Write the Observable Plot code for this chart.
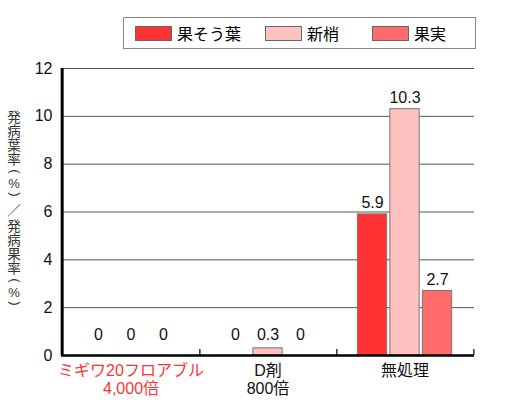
<!DOCTYPE html>
<html><head><meta charset="utf-8">
<script src="https://cdn.jsdelivr.net/npm/d3@7"></script>
<script src="https://cdn.jsdelivr.net/npm/@observablehq/plot@0.6"></script>
<style>
body{margin:0;background:#fff;font-family:"Liberation Sans","Noto Sans CJK JP",sans-serif;}
#wrap{position:relative;width:524px;height:409px;}
#legend{position:absolute;left:123px;top:17px;width:353px;height:32px;border:1px solid #888;box-sizing:border-box;font-size:16px;}
.item{position:absolute;top:0;height:30px;display:flex;align-items:center;}
.sw{width:37px;height:15px;border:1px solid #666;box-sizing:border-box;margin-right:5px;}
#ylabel{position:absolute;left:0;top:0;}
#chart{position:absolute;left:0;top:0;}
</style></head>
<body><div id="wrap"><div id="chart"></div><div id="legend"></div><svg id="ylabel" width="30" height="409"></svg></div>
<script>
const groups = ["ミギワ20フロアブル\n4,000倍", "D剤\n800倍", "無処理"];
const series = ["果そう葉", "新梢", "果実"];
const colors = ["#ff3333", "#ffc0c0", "#ff6b6b"];
const leafCluster = [0, 0, 5.9];
const shoot = [0, 0.3, 10.3];
const fruit = [0, 0, 2.7];
const yTicks = [0, 2, 4, 6, 8, 10, 12];
const yLabel = "発病葉率(%)／発病果率(%)";

const valuesBySeries = [leafCluster, shoot, fruit];
const rows = [];
series.forEach((s, i) => groups.forEach((g, j) => rows.push({group: g, series: s, value: valuesBySeries[i][j]})));

const W = 524, H = 409, mL = 61, mR = 50;
const band = (W - mL - mR) / groups.length;
const barW = 30, step = 32.5;
const inset = (band - barW) / 2;

const marks = [
  Plot.gridY(yTicks, {stroke: "#555", strokeOpacity: 1, strokeWidth: 1})
];
series.forEach((s, i) => {
  const data = rows.filter(r => r.series === s);
  const dx = (i - 1) * step;
  marks.push(Plot.barY(data, {x: "group", y: "value", fill: "series", stroke: "#777", strokeWidth: 1, insetLeft: inset, insetRight: inset, dx}));
  marks.push(Plot.text(data, {x: "group", y: d => Math.max(d.value, 0.4), text: d => String(d.value), dx, dy: -6, lineAnchor: "bottom", fontSize: 16, fill: "#111"}));
});
marks.push(
  Plot.ruleX(groups, {x: d => d, y1: 0, y2: 0.25, dx: band / 2, stroke: "#333", strokeWidth: 1.5}),
  Plot.ruleY([0], {stroke: "black", strokeWidth: 2.5}),
  Plot.ruleX([groups[0]], {y1: 0, y2: 12, dx: -band / 2, stroke: "black", strokeWidth: 3}),
  Plot.axisY({ticks: yTicks, tickSize: 0, tickPadding: 9, label: null, fontSize: 16, fill: "#111"}),
  Plot.text(groups, {x: d => d, y: 0, text: d => d, dy: 7, lineAnchor: "top", fontSize: 16, lineHeight: 1.15,
    fill: (d, i) => i === 0 ? "#ff3333" : "#111"})
);

const chart = Plot.plot({
  width: W, height: H,
  marginLeft: mL, marginRight: mR, marginTop: 68, marginBottom: 54,
  style: {fontFamily: '"Liberation Sans","Noto Sans CJK JP",sans-serif', background: "white"},
  x: {domain: groups, padding: 0, axis: null},
  y: {domain: [0, 12], axis: null},
  color: {domain: series, range: colors},
  marks
});
document.getElementById("chart").appendChild(chart);

const legend = document.getElementById("legend");
const lefts = [11, 141, 248];
series.forEach((s, i) => {
  const it = document.createElement("div");
  it.className = "item";
  it.style.left = lefts[i] + "px";
  it.innerHTML = `<div class="sw" style="background:${colors[i]}"></div><span>${s}</span>`;
  legend.appendChild(it);
});

// vertical y-axis title: one <text>, one positioned glyph per row
const svgNS = "http://www.w3.org/2000/svg";
const yl = document.getElementById("ylabel");
const txt = document.createElementNS(svgNS, "text");
txt.setAttribute("fill", "#333");
txt.setAttribute("font-family", '"Noto Sans CJK JP",sans-serif');
txt.setAttribute("font-size", 13.5);
yl.appendChild(txt);
const cx = 14;
let pos = 110;
for (const ch of yLabel) {
  const paren = ch === "(" || ch === ")";
  const h = paren ? 11 : ch === "%" ? 12 : ch === "／" ? 19 : 14;
  const c = pos + h / 2;
  const ts = document.createElementNS(svgNS, "tspan");
  ts.textContent = ch;
  if (paren) {
    const fs = 13;
    ts.setAttribute("font-family", '"Liberation Sans",sans-serif');
    ts.setAttribute("font-size", fs);
    ts.setAttribute("rotate", 90);
    ts.setAttribute("x", cx - 0.26 * fs);
    ts.setAttribute("y", c - 0.166 * fs);
  } else if (ch === "%") {
    const fs = 13;
    ts.setAttribute("font-family", '"Liberation Sans",sans-serif');
    ts.setAttribute("font-size", fs);
    ts.setAttribute("x", cx - 0.445 * fs);
    ts.setAttribute("y", c + 0.36 * fs);
  } else {
    const fs = 13.5;
    ts.setAttribute("x", cx - fs / 2);
    ts.setAttribute("y", c + 0.38 * fs);
  }
  txt.appendChild(ts);
  pos += h;
}
</script></body></html>
